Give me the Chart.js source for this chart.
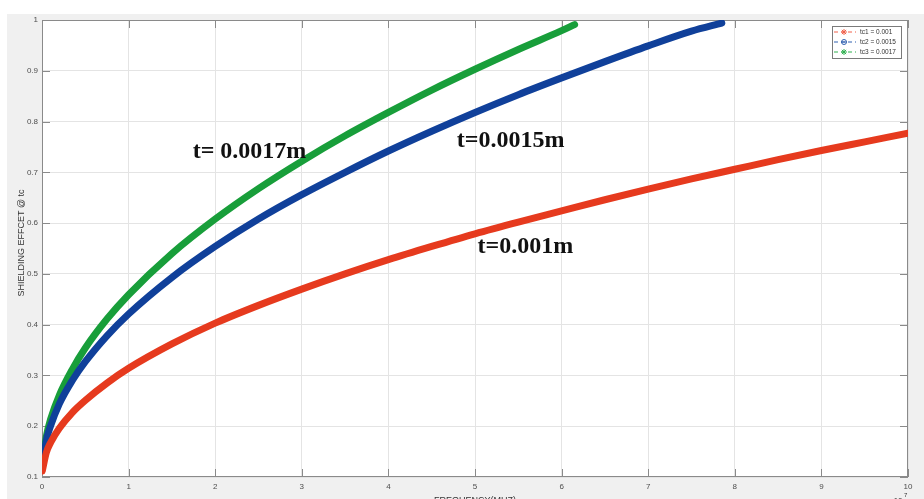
<!DOCTYPE html>
<html>
<head>
<meta charset="utf-8">
<title>Shielding effect vs frequency</title>
<script src="https://cdn.jsdelivr.net/npm/chart.js@4.4.1/dist/chart.umd.min.js"></script>
<style>
  html, body { margin: 0; padding: 0; background: #fff; }
</style>
</head>
<body>
<canvas id="chart" width="924" height="499"></canvas>
<script>
// frequency in units of 1e7 (as on the x axis), shielding effect
const freqTc1 = [0.003, 0.05, 0.1, 0.2, 0.35, 0.5, 0.75, 1, 1.5, 2, 2.5, 3, 3.5, 4, 4.5, 5, 5.5, 6, 6.5, 7, 7.5, 8, 8.5, 9, 9.5, 10];
const seTc1   = [0.112, 0.148, 0.168, 0.196, 0.227, 0.251, 0.285, 0.314, 0.362, 0.403, 0.438, 0.47, 0.5, 0.528, 0.554, 0.579, 0.602, 0.624, 0.646, 0.667, 0.687, 0.706, 0.725, 0.743, 0.76, 0.777];

const freqTc2 = [0.003, 0.05, 0.1, 0.2, 0.35, 0.5, 0.75, 1, 1.5, 2, 2.5, 3, 3.5, 4, 4.5, 5, 5.5, 6, 6.5, 7, 7.5, 7.85];
const seTc2   = [0.117, 0.172, 0.201, 0.244, 0.29, 0.327, 0.378, 0.421, 0.493, 0.554, 0.608, 0.656, 0.7, 0.742, 0.781, 0.818, 0.853, 0.886, 0.918, 0.949, 0.978, 0.994];

const freqTc3 = [0.003, 0.05, 0.1, 0.2, 0.35, 0.5, 0.75, 1, 1.5, 2, 2.5, 3, 3.5, 4, 4.5, 5, 5.5, 6, 6.15];
const seTc3   = [0.119, 0.18, 0.214, 0.261, 0.312, 0.354, 0.411, 0.459, 0.54, 0.608, 0.668, 0.722, 0.772, 0.818, 0.862, 0.903, 0.942, 0.979, 0.991];

const legendLabels = ['tc1 = 0.001', 'tc2 = 0.0015', 'tc3 = 0.0017'];
const curveLabels = ['t=0.001m', 't=0.0015m', 't= 0.0017m'];
const xTicks = [0, 1, 2, 3, 4, 5, 6, 7, 8, 9, 10];
const yTicks = [0.1, 0.2, 0.3, 0.4, 0.5, 0.6, 0.7, 0.8, 0.9, 1];

const colors = ['#e63a1e', '#10409a', '#189e3a'];
const legendColors = ['#f0604a', '#3060b0', '#30b050'];

// where the thickness labels sit, in data units (x, baseline y)
const labelPos = [[5.03, 0.542], [4.79, 0.75], [1.74, 0.728]];

const toPoints = (xs, ys) => xs.map((v, i) => ({ x: v, y: ys[i] }));

const frame = {
  id: 'frame',
  beforeDraw(chart) {
    const { ctx, chartArea: a, width, height } = chart;
    ctx.save();
    ctx.fillStyle = '#ffffff';
    ctx.fillRect(0, 0, width, height);
    ctx.fillStyle = '#f0f0f0';
    ctx.fillRect(7, 14, width - 7, height - 14);
    ctx.fillStyle = '#ffffff';
    ctx.fillRect(a.left, a.top, a.right - a.left, a.bottom - a.top);
    ctx.restore();
  },
  beforeDatasetsDraw(chart) {
    const { ctx, chartArea: a, scales: { x, y } } = chart;
    ctx.save();
    ctx.strokeStyle = '#8a8a8a';
    ctx.lineWidth = 1;
    ctx.strokeRect(Math.round(a.left) + 0.5, Math.round(a.top) + 0.5,
      Math.round(a.right - a.left) - 1, Math.round(a.bottom - a.top) - 1);
    ctx.beginPath();
    xTicks.forEach(v => {
      const px = Math.round(x.getPixelForValue(v)) + 0.5;
      ctx.moveTo(px, a.bottom); ctx.lineTo(px, a.bottom - 8);
      ctx.moveTo(px, a.top); ctx.lineTo(px, a.top + 8);
    });
    yTicks.forEach(v => {
      const py = Math.round(y.getPixelForValue(v)) + 0.5;
      ctx.moveTo(a.left, py); ctx.lineTo(a.left + 8, py);
      ctx.moveTo(a.right, py); ctx.lineTo(a.right - 8, py);
    });
    ctx.stroke();
    ctx.restore();
  },
  afterDraw(chart) {
    const { ctx, scales: { x, y } } = chart;
    ctx.save();

    // thickness labels on the curves
    ctx.fillStyle = '#111111';
    ctx.font = 'bold 24px "Liberation Serif", "Times New Roman", serif';
    ctx.textBaseline = 'alphabetic';
    ctx.textAlign = 'left';
    curveLabels.forEach((t, i) => {
      ctx.fillText(t, x.getPixelForValue(labelPos[i][0]), y.getPixelForValue(labelPos[i][1]));
    });

    // axis titles
    ctx.fillStyle = '#333333';
    ctx.font = '9px "Liberation Sans", Arial, sans-serif';
    ctx.textAlign = 'center';
    ctx.fillText('FREQUENCY(MHZ)', 475, 503);
    ctx.font = '8px "Liberation Sans", Arial, sans-serif';
    ctx.textAlign = 'left';
    ctx.fillText('\u00d710', 889, 503);
    ctx.font = '6px "Liberation Sans", Arial, sans-serif';
    ctx.fillText('7', 904, 497);
    ctx.save();
    ctx.translate(24, 243);
    ctx.rotate(-Math.PI / 2);
    ctx.font = '9px "Liberation Sans", Arial, sans-serif';
    ctx.textAlign = 'center';
    ctx.fillStyle = '#333333';
    ctx.fillText('SHIELDING EFFCET @ tc', 0, 0);
    ctx.restore();

    // legend box
    const bx = 832, by = 26, bw = 69, bh = 32;
    ctx.fillStyle = '#ffffff';
    ctx.fillRect(bx, by, bw, bh);
    ctx.strokeStyle = '#7a7a7a';
    ctx.lineWidth = 1;
    ctx.strokeRect(bx + 0.5, by + 0.5, bw, bh);
    ctx.font = '6.5px "Liberation Sans", Arial, sans-serif';
    ctx.textBaseline = 'middle';
    legendLabels.forEach((t, i) => {
      const ly = by + 6 + i * 10;
      ctx.strokeStyle = legendColors[i];
      ctx.lineWidth = 1;
      ctx.setLineDash([4, 3]);
      ctx.beginPath();
      ctx.moveTo(bx + 2, ly); ctx.lineTo(bx + 24, ly);
      ctx.stroke();
      ctx.setLineDash([]);
      const mx = bx + 12;
      ctx.beginPath();
      if (i === 1) {
        ctx.arc(mx, ly, 2.5, 0, Math.PI * 2);
        ctx.moveTo(mx - 2.5, ly); ctx.lineTo(mx + 2.5, ly);
      } else {
        for (let k = 0; k < 4; k++) {
          const ang = k * Math.PI / 4;
          ctx.moveTo(mx - 3 * Math.cos(ang), ly - 3 * Math.sin(ang));
          ctx.lineTo(mx + 3 * Math.cos(ang), ly + 3 * Math.sin(ang));
        }
      }
      ctx.lineWidth = 1;
      ctx.stroke();
      ctx.fillStyle = '#333333';
      ctx.fillText(t, bx + 28, ly);
    });
    ctx.restore();
  }
};

const tickFont = { size: 8, family: '"Liberation Sans", Arial, sans-serif' };

new Chart(document.getElementById('chart'), {
  type: 'line',
  data: {
    datasets: [
      { label: legendLabels[0], data: toPoints(freqTc1, seTc1), borderColor: colors[0] },
      { label: legendLabels[1], data: toPoints(freqTc2, seTc2), borderColor: colors[1] },
      { label: legendLabels[2], data: toPoints(freqTc3, seTc3), borderColor: colors[2] }
    ]
  },
  options: {
    responsive: false,
    animation: false,
    layout: { padding: { left: 0, top: 20, right: 16, bottom: 0 } },
    elements: {
      line: { borderWidth: 7, cubicInterpolationMode: 'monotone', borderCapStyle: 'round', borderJoinStyle: 'round', fill: false },
      point: { radius: 0, hoverRadius: 0 }
    },
    plugins: {
      legend: { display: false },
      tooltip: { enabled: false }
    },
    scales: {
      x: {
        type: 'linear',
        min: 0,
        max: 10,
        afterFit: (s) => { s.height = 22; },
        afterBuildTicks: (s) => { s.ticks = xTicks.map(v => ({ value: v })); },
        grid: { color: '#e4e4e4', drawTicks: false },
        border: { display: false },
        ticks: { padding: 5, color: '#4d4d4d', font: tickFont, maxRotation: 0, callback: (v) => String(Math.round(v)) }
      },
      y: {
        type: 'linear',
        min: 0.1,
        max: 1,
        afterFit: (s) => { s.width = 42; },
        afterBuildTicks: (s) => { s.ticks = yTicks.map(v => ({ value: v })); },
        grid: { color: '#e4e4e4', drawTicks: false },
        border: { display: false },
        ticks: { padding: 4, color: '#4d4d4d', font: tickFont, callback: (v) => String(Math.round(v * 10) / 10) }
      }
    }
  },
  plugins: [frame]
});
</script>
</body>
</html>
